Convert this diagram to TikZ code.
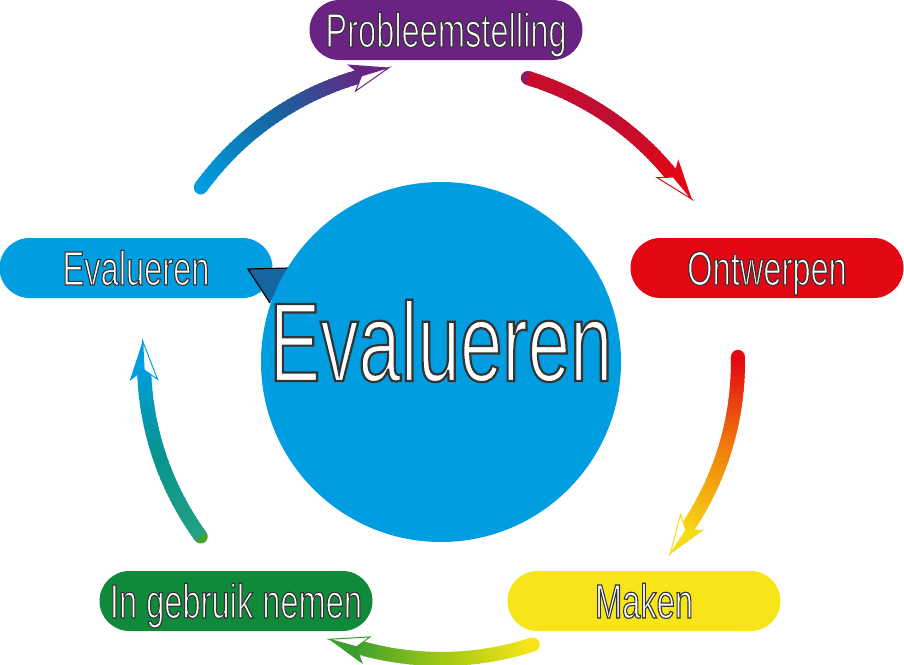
\documentclass[tikz,border=0pt]{standalone}
\usepackage{fontspec}
\usetikzlibrary{positioning,calc}
\newfontfamily\smal[FakeStretch=0.68]{Liberation Sans}
\definecolor{paars}{RGB}{106,35,130}
\definecolor{rood}{RGB}{227,6,19}
\definecolor{oranje}{RGB}{240,130,10}
\definecolor{geel}{RGB}{247,229,25}
\definecolor{lichtgroen}{RGB}{160,200,20}
\definecolor{groen}{RGB}{14,138,58}
\definecolor{blauw}{RGB}{0,158,224}
\definecolor{donkerblauw}{RGB}{21,101,160}
% witte letters met donkere rand
\newcommand{\rand}[2][0.55]{\special{pdf:literal direct 0.2 G #1 w 2 Tr}#2\special{pdf:literal direct 0 Tr 0.4 w}}
\tikzstyle{pil}=[rounded corners=15pt, minimum width=136.5pt, minimum height=30pt, inner sep=0pt, text=white, text height=17pt, text depth=0pt, font=\smal\fontsize{24}{24}\selectfont]
% boog met kleurverloop: begin, eind, kleur1, kleur2, kleur3
\newcommand{\boog}[5]{%
  \pgfmathsetmacro{\kop}{#2-7.5}
  \pgfmathsetmacro{\eind}{\kop+2.5}
  \draw[line width=7pt, line cap=round, color=#3] (#1:297) -- (#1+0.5:297);
  \foreach \i in {0,...,39}{
    \pgfmathsetmacro{\va}{#1+(\eind-#1)*\i/40}
    \pgfmathsetmacro{\vb}{min(#1+(\eind-#1)*(\i+1.5)/40,\eind)}
    \ifnum\i<20 \pgfmathtruncatemacro{\pp}{100-5*\i}\edef\kleur{#3!\pp!#4}\else\pgfmathtruncatemacro{\pp}{100-5*(\i-20)}\edef\kleur{#4!\pp!#5}\fi
    \draw[line width=7pt, color=\kleur] (\va:297) -- (\vb:297);
  }
  \fill[#5] (#2:299) -- (\kop:312) -- (\kop+2:297) -- cycle;
  \draw[#5, fill=white, line width=0.5pt] (#2:299) -- (\kop:284) -- (\kop+2:297) -- cycle;
}

\begin{document}
\begin{tikzpicture}[x=0.5pt,y=-0.5pt]

\useasboundingbox (0,0) rectangle (904,664);

% stappen
\node[pil, fill=paars] (probleem) at (446,30) {\rand{Probleemstelling}};
\node[pil, fill=rood] (ontwerp) at (767,268) {\rand{Ontwerpen}};
\node[pil, fill=geel] (maken) at (644,601) {\rand{Maken}};
\node[pil, fill=groen] (gebruik) at (236,601) {\rand{In gebruik nemen}};
\node[pil, fill=blauw] (evalueer) at (136,268) {\rand{Evalueren}};

% midden
\fill[donkerblauw] (248,269) -- (292,268) -- (270,303) -- cycle;
\draw[black, line width=0.6pt] (270,303) -- (248,269) -- (290,268);
\node[circle, fill=blauw, minimum size=180pt, inner sep=0pt] (midden) at (441,362) {};
\node[text=white, inner sep=0pt, text height=40pt, text depth=0pt, font=\smal\fontsize{56}{56}\selectfont] (middentekst) at (441,341) {\rand[1.1]{Evalueren}};

% pijlen
\begin{scope}[shift={(midden.center)}]
\boog{-144}{-100}{blauw}{donkerblauw}{paars}
\boog{-73}{-33}{paars!70!rood}{paars!30!rood}{rood}
\boog{-1}{40}{rood}{oranje}{geel!90!oranje}
\boog{72}{112}{geel}{lichtgroen}{groen!70!lichtgroen}
\boog{144}{184}{groen!60!lichtgroen}{groen!50!blauw}{blauw}
\end{scope}

\end{tikzpicture}
\end{document}
